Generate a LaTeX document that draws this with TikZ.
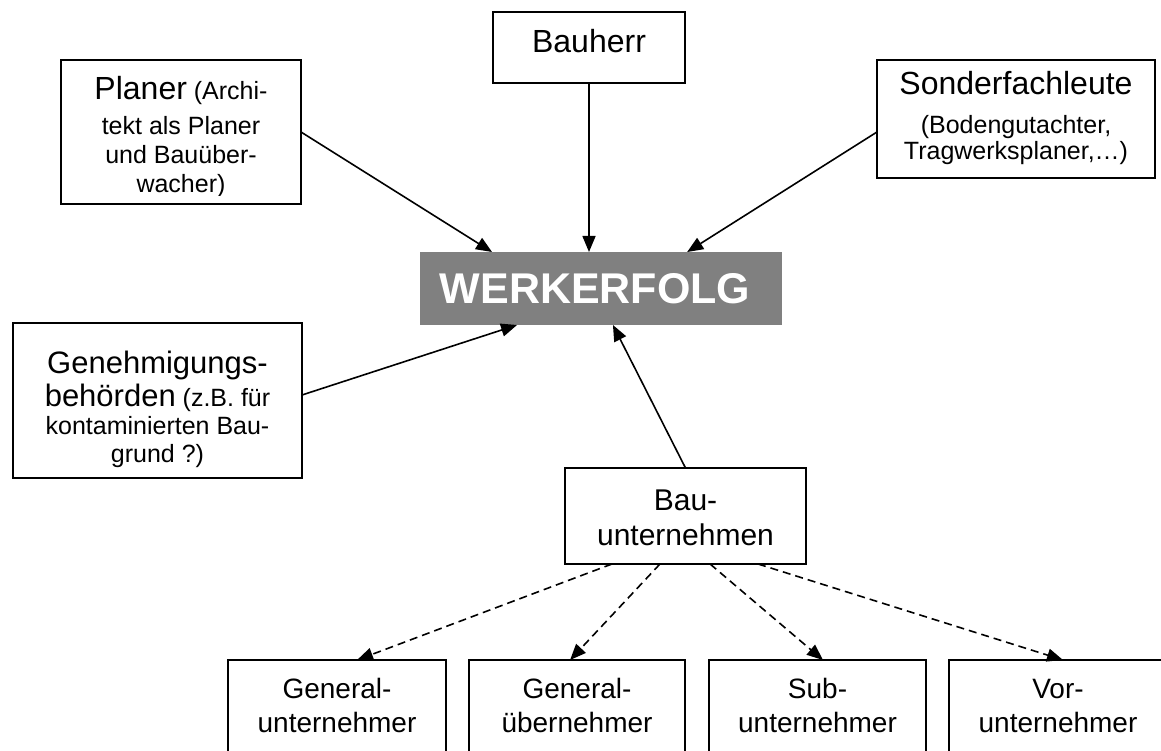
\documentclass[tikz,border=0pt]{standalone}
\usepackage{fontspec}
\setmainfont{Liberation Sans}
\usetikzlibrary{arrows.meta,calc}
\setlength\lineskiplimit{-100pt}
% fixed-size text cell: width, height, first-baseline offset, content
\newcommand\cellbox[4]{\parbox[c][#2][t]{#1}{\centering\rule{0pt}{#3}#4\par}}
\newcommand\fsz[2]{\fontsize{#1}{#2}\selectfont}
\begin{document}
\begin{tikzpicture}[x=1pt,y=-1pt,
  box/.style={draw=black,line width=1.6pt,fill=white,inner sep=0pt,outer sep=0pt},
  goal/.style={fill=black!50,inner sep=0pt,outer sep=0pt,text=white},
  link/.style={line width=1.6pt,-{Triangle[length=16pt,width=13pt]}},
  dlink/.style={link,dash pattern=on 8pt off 5pt},
  cutoff/.style={fill=white,draw=none}]
\useasboundingbox (0,0) rectangle (1161,751);
\clip (0,0) rectangle (1161,751);

% parties around the goal
\node[box] (bauherr) at (589,47.5)
  {\cellbox{192pt}{71pt}{41pt}{\fsz{32}{37}Bauherr}};
\node[box] (planer) at (181,132)
  {\cellbox{240pt}{144pt}{40pt}{\fsz{25}{29}{\fsz{32}{36}Planer} (Archi-\\[6pt]tekt als Planer\\und Bauüber-\\wacher)}};
\node[box] (sonder) at (1016,119)
  {\cellbox{278pt}{118pt}{35pt}{\fsz{25}{26}{\fsz{32}{36}Sonderfachleute}\\[13pt](Bodengutachter,\\Tragwerksplaner,…)}};
\node[goal] (werk) at (601,288.5)
  {\cellbox{362pt}{73pt}{51pt}{\kern-12pt\fsz{43}{48}\bfseries WERKERFOLG}};
\node[box] (genehm) at (157.5,400.5)
  {\cellbox{289pt}{155pt}{50pt}{\fsz{25}{28}{\fsz{31}{36}Genehmigungs-}\\[4pt]{\fsz{31}{36}behörden} (z.B. für\\kontaminierten Bau-\\grund ?)}};
\node[box] (bau) at (685.5,516)
  {\cellbox{241pt}{96pt}{42pt}{\fsz{30}{35}Bau-\\unternehmen}};

% text running past the bottom of its frame is cut off there
\fill[cutoff] ($(planer.south west)+(1,-8)$) rectangle ($(planer.south east)+(-1,-0.8)$);
\fill[cutoff] ($(genehm.south west)+(1,-9)$) rectangle ($(genehm.south east)+(-1,-0.8)$);

% contractor types
\node[box] (gu) at (337,715)
  {\cellbox{218pt}{110pt}{38pt}{\fsz{28}{34}General-\\unternehmer}};
\node[box] (gue) at (577,715)
  {\cellbox{216pt}{110pt}{38pt}{\fsz{28}{34}General-\\übernehmer}};
\node[box] (sub) at (817.5,715)
  {\cellbox{217pt}{110pt}{38pt}{\fsz{28}{34}Sub-\\unternehmer}};
\node[box] (vor) at (1058,715)
  {\cellbox{218pt}{110pt}{38pt}{\fsz{28}{34}Vor-\\unternehmer}};

% influences on the goal
\draw[link] (planer.east) -- ($(werk.north west)!0.199!(werk.north east)$);
\draw[link] (bauherr.south) -- (bauherr.south |- werk.north);
\draw[link] ($(sonder.north west)!0.61!(sonder.south west)$) -- ($(werk.north west)!0.738!(werk.north east)$);
\draw[link] ($(genehm.north east)!0.4645!(genehm.south east)$) -- ($(werk.south west)!0.268!(werk.south east)$);
\draw[link] (bau.north) -- ($(werk.south west)!0.533!(werk.south east)$);

% forms of the contractor
\draw[dlink] ($(bau.south west)!0.195!(bau.south east)$) -- ($(gu.north west)!0.592!(gu.north east)$);
\draw[dlink] ($(bau.south west)!0.394!(bau.south east)$) -- ($(gue.north west)!0.468!(gue.north east)$);
\draw[dlink] ($(bau.south west)!0.602!(bau.south east)$) -- ($(sub.north west)!0.525!(sub.north east)$);
\draw[dlink] ($(bau.south west)!0.801!(bau.south east)$) -- ($(vor.north west)!0.523!(vor.north east)$);
\end{tikzpicture}
\end{document}
